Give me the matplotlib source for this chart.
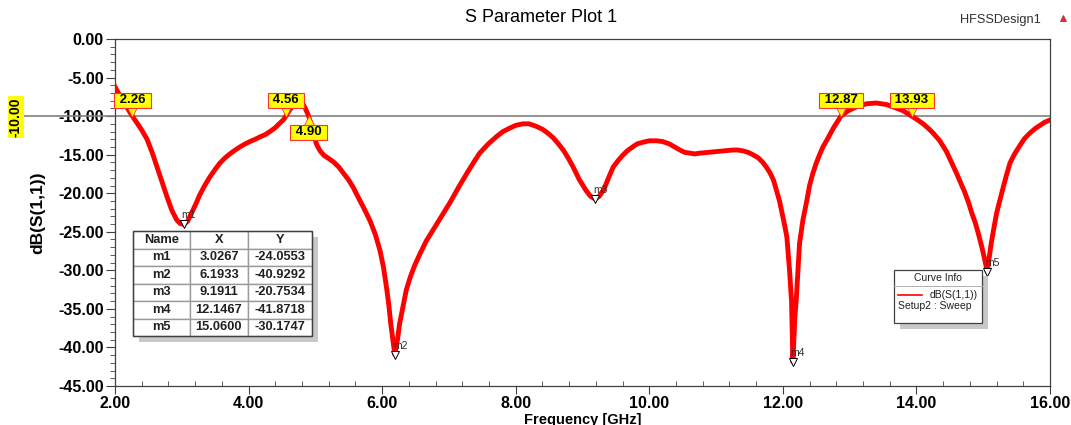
import numpy as np
import matplotlib
matplotlib.use('Agg')
import matplotlib.pyplot as plt
import matplotlib.transforms as mtransforms
from matplotlib.patches import Rectangle
from matplotlib.lines import Line2D

plt.rcParams['font.family'] = ['Liberation Sans', 'DejaVu Sans']

# 曲线数据
freq = [2.00, 2.05, 2.10, 2.18, 2.26, 2.33, 2.40, 2.48, 2.56, 2.63, 2.70, 2.78, 2.85, 2.92,
        2.97, 3.03, 3.09, 3.15, 3.21, 3.27, 3.35, 3.42, 3.50, 3.57, 3.65, 3.72, 3.80, 3.87,
        3.95, 4.02, 4.10, 4.17, 4.25, 4.32, 4.40, 4.47, 4.52, 4.56, 4.60, 4.65, 4.70, 4.74,
        4.77, 4.80, 4.85, 4.90, 4.94, 4.98, 5.02, 5.07, 5.13, 5.20, 5.28, 5.35, 5.42, 5.50,
        5.57, 5.64, 5.73, 5.82, 5.90, 5.97, 6.02, 6.07, 6.10, 6.13, 6.16, 6.19, 6.23, 6.26,
        6.31, 6.36, 6.42, 6.49, 6.57, 6.66, 6.76, 6.88, 7.01, 7.14, 7.27, 7.37, 7.46, 7.59,
        7.72, 7.81, 7.90, 8.00, 8.11, 8.20, 8.30, 8.40, 8.48, 8.56, 8.64, 8.72, 8.79, 8.86,
        8.95, 9.05, 9.12, 9.19, 9.25, 9.32, 9.39, 9.46, 9.53, 9.60, 9.67, 9.75, 9.82, 9.90,
        10.00, 10.11, 10.20, 10.30, 10.38, 10.46, 10.53, 10.60, 10.68, 10.76, 10.88, 11.00,
        11.12, 11.25, 11.33, 11.40, 11.48, 11.55, 11.63, 11.70, 11.76, 11.81, 11.86, 11.90,
        11.95, 12.00, 12.03, 12.06, 12.10, 12.13, 12.15, 12.18, 12.20, 12.25, 12.30, 12.36,
        12.40, 12.45, 12.50, 12.55, 12.60, 12.66, 12.76, 12.87, 12.98, 13.10, 13.25, 13.40,
        13.55, 13.65, 13.80, 13.93, 14.02, 14.10, 14.18, 14.25, 14.35, 14.45, 14.52, 14.60,
        14.66, 14.72, 14.78, 14.83, 14.88, 14.92, 14.98, 15.02, 15.06, 15.09, 15.12, 15.16,
        15.20, 15.25, 15.30, 15.35, 15.40, 15.47, 15.55, 15.62, 15.70, 15.78, 15.85, 15.92,
        16.00]
s11_db = [-6.2, -7.0, -7.8, -8.9, -10.0, -10.9, -11.8, -13.0, -14.8, -16.6, -18.4, -20.5,
          -22.2, -23.4, -23.9, -24.06, -23.6, -22.5, -21.4, -20.2, -18.9, -17.9, -16.9, -16.1,
          -15.4, -14.9, -14.4, -14.0, -13.6, -13.3, -13.0, -12.7, -12.4, -12.0, -11.5, -10.9,
          -10.5, -10.0, -9.4, -8.8, -8.0, -7.6, -7.7, -8.2, -9.0, -10.0, -11.3, -12.6, -13.7,
          -14.5, -15.1, -15.5, -16.0, -16.6, -17.4, -18.3, -19.3, -20.5, -22.0, -23.6, -25.4,
          -27.5, -29.6, -32.5, -34.5, -37.0, -39.0, -40.93, -39.0, -37.0, -34.8, -32.6, -30.9,
          -29.3, -27.8, -26.2, -24.8, -23.1, -21.3, -19.3, -17.4, -16.0, -14.8, -13.6, -12.6,
          -12.0, -11.6, -11.2, -11.0, -11.0, -11.3, -11.7, -12.2, -12.8, -13.6, -14.5, -15.5,
          -16.6, -18.2, -19.6, -20.4, -20.75, -20.4, -19.5, -18.0, -16.6, -15.8, -15.1, -14.5,
          -14.0, -13.6, -13.4, -13.2, -13.2, -13.3, -13.6, -14.0, -14.4, -14.7, -14.8, -14.9,
          -14.8, -14.7, -14.6, -14.5, -14.4, -14.4, -14.5, -14.7, -15.0, -15.4, -16.0, -16.7,
          -17.4, -18.3, -19.5, -21.0, -23.1, -24.3, -25.7, -30.0, -34.0, -41.87, -36.0, -33.9,
          -26.5, -23.5, -20.9, -19.0, -17.4, -16.1, -15.0, -14.0, -13.1, -11.5, -10.0, -9.3,
          -8.8, -8.4, -8.3, -8.5, -8.8, -9.3, -10.0, -10.5, -11.0, -11.6, -12.2, -13.2, -14.6,
          -15.9, -17.4, -18.6, -19.8, -21.2, -22.6, -23.8, -25.0, -27.0, -28.5, -30.17, -28.3,
          -26.5, -24.5, -22.6, -20.9, -19.2, -17.6, -16.1, -14.9, -13.8, -12.9, -12.2, -11.6,
          -11.2, -10.8, -10.5]

# 标记点
marker_names = ['m1', 'm2', 'm3', 'm4', 'm5']
marker_x = [3.0267, 6.1933, 9.1911, 12.1467, 15.0600]
marker_y = [-24.0553, -40.9292, -20.7534, -41.8718, -30.1747]

# -10 dB 交点
cross_level = -10.0
cross_up = [2.26, 4.56, 12.87, 13.93]   # 标签在线上方
cross_down = [4.90]                     # 标签在线下方

W, H = 1071, 425
fig = plt.figure(figsize=(W / 100, H / 100), dpi=100)
ax = fig.add_axes([115 / W, 1 - 386 / H, 935 / W, 347 / H])


def px(x, y):
    return x / W, 1 - y / H


ax.plot(freq, s11_db, color='red', lw=3.5, solid_joinstyle='round', zorder=3)
ax.set_xlim(2, 16)
ax.set_ylim(-45, 0)
ax.set_xticks(np.arange(2, 16.1, 2))
ax.set_yticks(np.arange(-45, 0.1, 5))
ax.set_xticks(np.arange(2, 16.01, 0.4), minor=True)
ax.set_yticks(np.arange(-45, 0.1, 1), minor=True)
ax.xaxis.set_major_formatter(matplotlib.ticker.FormatStrFormatter('%.2f'))
ax.yaxis.set_major_formatter(matplotlib.ticker.FormatStrFormatter('%.2f'))
ax.tick_params(axis='both', which='major', labelsize=11.5, color='#404040', width=0.8)
ax.tick_params(axis='x', which='major', direction='out', length=5.5, pad=2)
ax.tick_params(axis='x', which='minor', direction='in', length=3.5, color='#404040')
ax.tick_params(axis='y', which='major', direction='out', length=6.5, pad=1.5)
ax.tick_params(axis='y', which='minor', direction='out', length=3.5, color='#404040')
for lab in ax.get_xticklabels() + ax.get_yticklabels():
    lab.set_fontweight('bold')
for sp in ax.spines.values():
    sp.set_color('#404040')
    sp.set_linewidth(0.9)

ax.set_xlabel('Frequency [GHz]', fontsize=10.5, fontweight='bold')
ax.set_ylabel('dB(S(1,1))', fontsize=12.5, fontweight='bold')
ax.xaxis.set_label_coords(0.5, -0.077)
ax.yaxis.set_label_coords(-0.075, 0.5)

# -10 dB 参考线
ax.axhline(cross_level, xmin=-0.097, xmax=1, color='#808080', lw=1.2, clip_on=False, zorder=2)
fig.text(*px(16, 117), '-10.00', rotation=90, ha='center', va='center', fontsize=10,
         fontweight='bold', bbox=dict(facecolor='#ffff00', edgecolor='none', pad=0.8))

# 交点标签
up_tri = mtransforms.offset_copy(ax.transData, fig=fig, x=0, y=6, units='dots')
up_box = mtransforms.offset_copy(ax.transData, fig=fig, x=0, y=16, units='dots')
dn_tri = mtransforms.offset_copy(ax.transData, fig=fig, x=0, y=-6, units='dots')
dn_box = mtransforms.offset_copy(ax.transData, fig=fig, x=0, y=-16, units='dots')
box_style = dict(facecolor='#ffff00', edgecolor='#ff3030', lw=0.8, boxstyle='square,pad=0.12')
for xc in cross_up:
    ax.plot(xc, cross_level, marker='v', ms=9.5, mfc='#ffff00', mec='#ff3030', mew=0.6,
            transform=up_tri, clip_on=False, zorder=6)
    ax.text(xc, cross_level, f' {xc:.2f} ', transform=up_box, ha='center', va='center',
            fontsize=9.5, fontweight='bold', zorder=7, bbox=box_style)
for xc in cross_down:
    ax.plot(xc, cross_level, marker='^', ms=9.5, mfc='#ffff00', mec='#ff3030', mew=0.6,
            transform=dn_tri, clip_on=False, zorder=6)
    ax.text(xc, cross_level, f' {xc:.2f} ', transform=dn_box, ha='center', va='center',
            fontsize=9.5, fontweight='bold', zorder=7, bbox=box_style)

# 标记 m1-m5
m_txt = mtransforms.offset_copy(ax.transData, fig=fig, x=5, y=9, units='dots')
for n, x, y in zip(marker_names, marker_x, marker_y):
    ax.plot(x, y, marker='v', ms=5.5, mfc='white', mec='black', mew=0.7, zorder=5)
    ax.text(x, y, n, transform=m_txt, ha='center', va='center', fontsize=7.5,
            color='#303030', zorder=5)

# 标记表格
cell_text = [[n, f'{x:.4f}', f'{y:.4f}'] for n, x, y in zip(marker_names, marker_x, marker_y)]
tx0, tx1, ty0, ty1 = 133, 312, 231, 336
bx = (tx0 - 115) / 935
by = (386 - ty1) / 347
bw = (tx1 - tx0) / 935
bh = (ty1 - ty0) / 347
ax.add_patch(Rectangle((bx + 6 / 935, by - 6 / 347), bw, bh, transform=ax.transAxes,
                       facecolor='#c8c8c8', edgecolor='none', zorder=8))
tbl = ax.table(cellText=cell_text, colLabels=['Name', 'X', 'Y'], cellLoc='center',
               colWidths=[57, 58, 64], bbox=[bx, by, bw, bh], zorder=9)
tbl.auto_set_font_size(False)
tbl.set_fontsize(9.3)
for (r, c), cell in tbl.get_celld().items():
    cell.set_edgecolor('#9a9a9a')
    cell.set_linewidth(1.0)
    cell.set_facecolor('white')
    cell.get_text().set_fontweight('bold')
    cell.get_text().set_color('#202020')
ax.add_patch(Rectangle((bx, by), bw, bh, transform=ax.transAxes, facecolor='none',
                       edgecolor='#404040', lw=1.0, zorder=10))

# Curve Info 图例
lx0, ly0, lx1, ly1 = 894, 270, 982, 323
fig.add_artist(Rectangle(px(lx0 + 6, ly1 + 6), (lx1 - lx0) / W, (ly1 - ly0) / H,
                         transform=fig.transFigure, facecolor='#c8c8c8', edgecolor='none'))
fig.add_artist(Rectangle(px(lx0, ly1), (lx1 - lx0) / W, (ly1 - ly0) / H,
                         transform=fig.transFigure, facecolor='white', edgecolor='#404040', lw=0.9))
fig.add_artist(Line2D([lx0 / W, lx1 / W], [1 - 286 / H] * 2, color='#b0b0b0', lw=0.7))
fig.text(*px(938, 278), 'Curve Info', ha='center', va='center', fontsize=7.5, color='#202020')
fig.add_artist(Line2D([898 / W, 922 / W], [1 - 295 / H] * 2, color='red', lw=1.2))
fig.text(*px(930, 295), 'dB(S(1,1))', ha='left', va='center', fontsize=7.5, color='#202020')
fig.text(*px(898, 306), 'Setup2 : Sweep', ha='left', va='center', fontsize=7.5, color='#202020')

# 标题
fig.text(*px(541, 18), 'S Parameter Plot 1', ha='center', va='center', fontsize=13)
fig.text(*px(1041, 20), 'HFSSDesign1', ha='right', va='center', fontsize=9.2, color='#303030')
fig.add_artist(Line2D([1063 / W], [1 - 18 / H], marker='^', ms=5, color='#e03030',
                      mec='#a02020', mew=0.5))

fig.savefig('out.png', dpi=100)
